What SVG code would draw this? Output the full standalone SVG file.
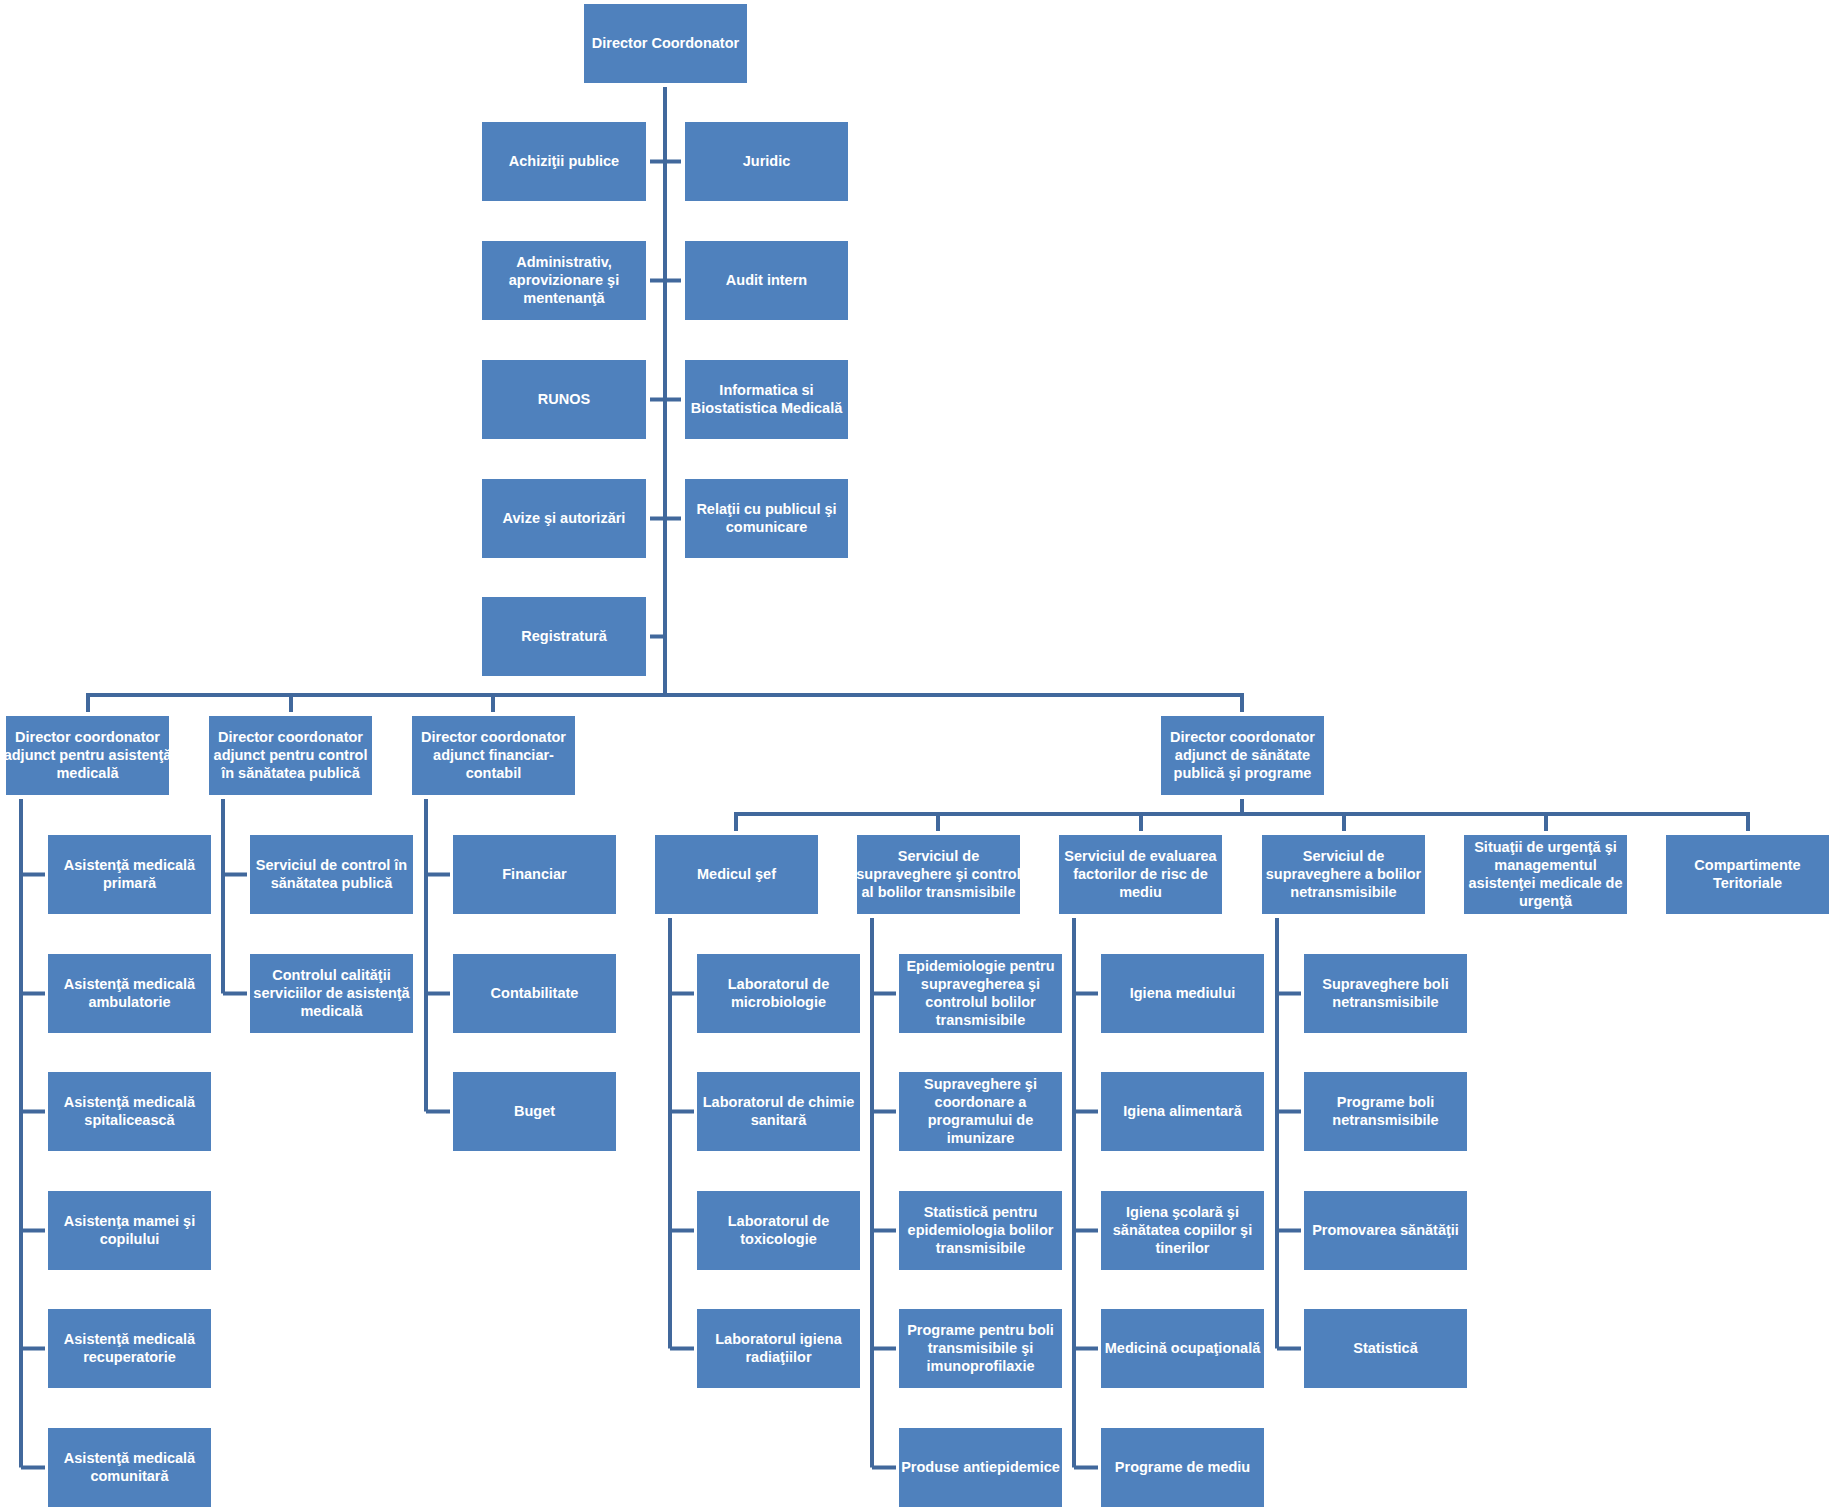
<svg xmlns="http://www.w3.org/2000/svg" width="1836" height="1511" viewBox="0 0 1836 1511">
<style>
.b{fill:#4F81BD}
.t{font-family:"Liberation Sans",Arial,sans-serif;font-weight:bold;font-size:14.5px;fill:#FFFFFF;text-anchor:middle}
.c{fill:none;stroke:#41689C;stroke-width:4;stroke-linejoin:miter}
</style>
<rect width="1836" height="1511" fill="#FFFFFF"/>
<g id="connectors" class="c">
<path d="M665,87V695"/>
<path d="M650,161.5H681M650,280.5H681M650,399.5H681M650,518.5H681M650,636.5H665"/>
<path d="M88,712V695H1242V712M291,695V712M493,695V712"/>
<path d="M21,799V1467.5M21,874.5H45M21,993.5H45M21,1111.5H45M21,1230.5H45M21,1348.5H45M21,1467.5H45"/>
<path d="M223,799V993.5M223,874.5H247M223,993.5H247"/>
<path d="M426,799V1111.5M426,874.5H450M426,993.5H450M426,1111.5H450"/>
<path d="M1242,799V814M736,831V814H1748V831M938,814V831M1141,814V831M1344,814V831M1546,814V831"/>
<path d="M670,918V1348.5M670,993.5H694M670,1111.5H694M670,1230.5H694M670,1348.5H694"/>
<path d="M872,918V1467.5M872,993.5H896M872,1111.5H896M872,1230.5H896M872,1348.5H896M872,1467.5H896"/>
<path d="M1074,918V1467.5M1074,993.5H1098M1074,1111.5H1098M1074,1230.5H1098M1074,1348.5H1098M1074,1467.5H1098"/>
<path d="M1277,918V1348.5M1277,993.5H1301M1277,1111.5H1301M1277,1230.5H1301M1277,1348.5H1301"/>
</g>
<g transform="translate(0,-1)">
<g id="director"><rect class="b" x="584" y="5" width="163" height="79"/><text class="t" x="665.5" y="48.5">Director Coordonator</text></g>
<g id="achizitii"><rect class="b" x="482" y="123" width="164" height="79"/><text class="t" x="564" y="166.5">Achiziţii publice</text></g>
<g id="administrativ"><rect class="b" x="482" y="242" width="164" height="79"/><text class="t" x="564"><tspan x="564" y="267.5">Administrativ,</tspan><tspan x="564" y="285.5">aprovizionare şi</tspan><tspan x="564" y="303.5">mentenanţă</tspan></text></g>
<g id="runos"><rect class="b" x="482" y="361" width="164" height="79"/><text class="t" x="564" y="404.5">RUNOS</text></g>
<g id="avize"><rect class="b" x="482" y="480" width="164" height="79"/><text class="t" x="564" y="523.5">Avize şi autorizări</text></g>
<g id="registratura"><rect class="b" x="482" y="598" width="164" height="79"/><text class="t" x="564" y="641.5">Registratură</text></g>
<g id="juridic"><rect class="b" x="685" y="123" width="163" height="79"/><text class="t" x="766.5" y="166.5">Juridic</text></g>
<g id="audit"><rect class="b" x="685" y="242" width="163" height="79"/><text class="t" x="766.5" y="285.5">Audit intern</text></g>
<g id="informatica"><rect class="b" x="685" y="361" width="163" height="79"/><text class="t"><tspan x="766.5" y="395.5">Informatica si</tspan><tspan x="766.5" y="413.5">Biostatistica Medicală</tspan></text></g>
<g id="relatii"><rect class="b" x="685" y="480" width="163" height="79"/><text class="t"><tspan x="766.5" y="514.5">Relaţii cu publicul şi</tspan><tspan x="766.5" y="532.5">comunicare</tspan></text></g>
<g id="dc1"><rect class="b" x="6" y="717" width="163" height="79"/><text class="t"><tspan x="87.5" y="742.5">Director coordonator</tspan><tspan x="87.5" y="760.5">adjunct pentru asistenţă</tspan><tspan x="87.5" y="778.5">medicală</tspan></text></g>
<g id="dc2"><rect class="b" x="209" y="717" width="163" height="79"/><text class="t"><tspan x="290.5" y="742.5">Director coordonator</tspan><tspan x="290.5" y="760.5">adjunct pentru control</tspan><tspan x="290.5" y="778.5">în sănătatea publică</tspan></text></g>
<g id="dc3"><rect class="b" x="412" y="717" width="163" height="79"/><text class="t"><tspan x="493.5" y="742.5">Director coordonator</tspan><tspan x="493.5" y="760.5">adjunct financiar-</tspan><tspan x="493.5" y="778.5">contabil</tspan></text></g>
<g id="dc4"><rect class="b" x="1161" y="717" width="163" height="79"/><text class="t"><tspan x="1242.5" y="742.5">Director coordonator</tspan><tspan x="1242.5" y="760.5">adjunct de sănătate</tspan><tspan x="1242.5" y="778.5">publică şi programe</tspan></text></g>
<g id="am-primara"><rect class="b" x="48" y="836" width="163" height="79"/><text class="t"><tspan x="129.5" y="870.5">Asistenţă medicală</tspan><tspan x="129.5" y="888.5">primară</tspan></text></g>
<g id="am-ambulatorie"><rect class="b" x="48" y="955" width="163" height="79"/><text class="t"><tspan x="129.5" y="989.5">Asistenţă medicală</tspan><tspan x="129.5" y="1007.5">ambulatorie</tspan></text></g>
<g id="am-spitaliceasca"><rect class="b" x="48" y="1073" width="163" height="79"/><text class="t"><tspan x="129.5" y="1107.5">Asistenţă medicală</tspan><tspan x="129.5" y="1125.5">spitalicească</tspan></text></g>
<g id="am-mamei"><rect class="b" x="48" y="1192" width="163" height="79"/><text class="t"><tspan x="129.5" y="1226.5">Asistenţa mamei şi</tspan><tspan x="129.5" y="1244.5">copilului</tspan></text></g>
<g id="am-recuperatorie"><rect class="b" x="48" y="1310" width="163" height="79"/><text class="t"><tspan x="129.5" y="1344.5">Asistenţă medicală</tspan><tspan x="129.5" y="1362.5">recuperatorie</tspan></text></g>
<g id="am-comunitara"><rect class="b" x="48" y="1429" width="163" height="79"/><text class="t"><tspan x="129.5" y="1463.5">Asistenţă medicală</tspan><tspan x="129.5" y="1481.5">comunitară</tspan></text></g>
<g id="serv-control"><rect class="b" x="250" y="836" width="163" height="79"/><text class="t"><tspan x="331.5" y="870.5">Serviciul de control în</tspan><tspan x="331.5" y="888.5">sănătatea publică</tspan></text></g>
<g id="control-calitate"><rect class="b" x="250" y="955" width="163" height="79"/><text class="t"><tspan x="331.5" y="980.5">Controlul calităţii</tspan><tspan x="331.5" y="998.5">serviciilor de asistenţă</tspan><tspan x="331.5" y="1016.5">medicală</tspan></text></g>
<g id="financiar"><rect class="b" x="453" y="836" width="163" height="79"/><text class="t" x="534.5" y="879.5">Financiar</text></g>
<g id="contabilitate"><rect class="b" x="453" y="955" width="163" height="79"/><text class="t" x="534.5" y="998.5">Contabilitate</text></g>
<g id="buget"><rect class="b" x="453" y="1073" width="163" height="79"/><text class="t" x="534.5" y="1116.5">Buget</text></g>
<g id="medicul-sef"><rect class="b" x="655" y="836" width="163" height="79"/><text class="t" x="736.5" y="879.5">Medicul şef</text></g>
<g id="serv-transmisibile"><rect class="b" x="857" y="836" width="163" height="79"/><text class="t"><tspan x="938.5" y="861.5">Serviciul de</tspan><tspan x="938.5" y="879.5">supraveghere şi control</tspan><tspan x="938.5" y="897.5">al bolilor transmisibile</tspan></text></g>
<g id="serv-evaluare"><rect class="b" x="1059" y="836" width="163" height="79"/><text class="t"><tspan x="1140.5" y="861.5">Serviciul de evaluarea</tspan><tspan x="1140.5" y="879.5">factorilor de risc de</tspan><tspan x="1140.5" y="897.5">mediu</tspan></text></g>
<g id="serv-netransmisibile"><rect class="b" x="1262" y="836" width="163" height="79"/><text class="t"><tspan x="1343.5" y="861.5">Serviciul de</tspan><tspan x="1343.5" y="879.5">supraveghere a bolilor</tspan><tspan x="1343.5" y="897.5">netransmisibile</tspan></text></g>
<g id="situatii-urgenta"><rect class="b" x="1464" y="836" width="163" height="79"/><text class="t"><tspan x="1545.5" y="852.5">Situaţii de urgenţă şi</tspan><tspan x="1545.5" y="870.5">managementul</tspan><tspan x="1545.5" y="888.5">asistenţei medicale de</tspan><tspan x="1545.5" y="906.5">urgenţă</tspan></text></g>
<g id="compartimente"><rect class="b" x="1666" y="836" width="163" height="79"/><text class="t"><tspan x="1747.5" y="870.5">Compartimente</tspan><tspan x="1747.5" y="888.5">Teritoriale</tspan></text></g>
<g id="lab-micro"><rect class="b" x="697" y="955" width="163" height="79"/><text class="t"><tspan x="778.5" y="989.5">Laboratorul de</tspan><tspan x="778.5" y="1007.5">microbiologie</tspan></text></g>
<g id="lab-chimie"><rect class="b" x="697" y="1073" width="163" height="79"/><text class="t"><tspan x="778.5" y="1107.5">Laboratorul de chimie</tspan><tspan x="778.5" y="1125.5">sanitară</tspan></text></g>
<g id="lab-toxicologie"><rect class="b" x="697" y="1192" width="163" height="79"/><text class="t"><tspan x="778.5" y="1226.5">Laboratorul de</tspan><tspan x="778.5" y="1244.5">toxicologie</tspan></text></g>
<g id="lab-radiatii"><rect class="b" x="697" y="1310" width="163" height="79"/><text class="t"><tspan x="778.5" y="1344.5">Laboratorul igiena</tspan><tspan x="778.5" y="1362.5">radiaţiilor</tspan></text></g>
<g id="epidemiologie"><rect class="b" x="899" y="955" width="163" height="79"/><text class="t"><tspan x="980.5" y="971.5">Epidemiologie pentru</tspan><tspan x="980.5" y="989.5">supravegherea şi</tspan><tspan x="980.5" y="1007.5">controlul bolilor</tspan><tspan x="980.5" y="1025.5">transmisibile</tspan></text></g>
<g id="imunizare"><rect class="b" x="899" y="1073" width="163" height="79"/><text class="t"><tspan x="980.5" y="1089.5">Supraveghere şi</tspan><tspan x="980.5" y="1107.5">coordonare a</tspan><tspan x="980.5" y="1125.5">programului de</tspan><tspan x="980.5" y="1143.5">imunizare</tspan></text></g>
<g id="statistica-epi"><rect class="b" x="899" y="1192" width="163" height="79"/><text class="t"><tspan x="980.5" y="1217.5">Statistică pentru</tspan><tspan x="980.5" y="1235.5">epidemiologia bolilor</tspan><tspan x="980.5" y="1253.5">transmisibile</tspan></text></g>
<g id="programe-transmisibile"><rect class="b" x="899" y="1310" width="163" height="79"/><text class="t"><tspan x="980.5" y="1335.5">Programe pentru boli</tspan><tspan x="980.5" y="1353.5">transmisibile şi</tspan><tspan x="980.5" y="1371.5">imunoprofilaxie</tspan></text></g>
<g id="produse"><rect class="b" x="899" y="1429" width="163" height="79"/><text class="t" x="980.5" y="1472.5">Produse antiepidemice</text></g>
<g id="igiena-mediului"><rect class="b" x="1101" y="955" width="163" height="79"/><text class="t" x="1182.5" y="998.5">Igiena mediului</text></g>
<g id="igiena-alimentara"><rect class="b" x="1101" y="1073" width="163" height="79"/><text class="t" x="1182.5" y="1116.5">Igiena alimentară</text></g>
<g id="igiena-scolara"><rect class="b" x="1101" y="1192" width="163" height="79"/><text class="t"><tspan x="1182.5" y="1217.5">Igiena şcolară şi</tspan><tspan x="1182.5" y="1235.5">sănătatea copiilor şi</tspan><tspan x="1182.5" y="1253.5">tinerilor</tspan></text></g>
<g id="medicina-ocupationala"><rect class="b" x="1101" y="1310" width="163" height="79"/><text class="t" x="1182.5" y="1353.5">Medicină ocupaţională</text></g>
<g id="programe-mediu"><rect class="b" x="1101" y="1429" width="163" height="79"/><text class="t" x="1182.5" y="1472.5">Programe de mediu</text></g>
<g id="supraveghere-netrans"><rect class="b" x="1304" y="955" width="163" height="79"/><text class="t"><tspan x="1385.5" y="989.5">Supraveghere boli</tspan><tspan x="1385.5" y="1007.5">netransmisibile</tspan></text></g>
<g id="programe-netrans"><rect class="b" x="1304" y="1073" width="163" height="79"/><text class="t"><tspan x="1385.5" y="1107.5">Programe boli</tspan><tspan x="1385.5" y="1125.5">netransmisibile</tspan></text></g>
<g id="promovarea"><rect class="b" x="1304" y="1192" width="163" height="79"/><text class="t" x="1385.5" y="1235.5">Promovarea sănătăţii</text></g>
<g id="statistica"><rect class="b" x="1304" y="1310" width="163" height="79"/><text class="t" x="1385.5" y="1353.5">Statistică</text></g>
</g>
</svg>
